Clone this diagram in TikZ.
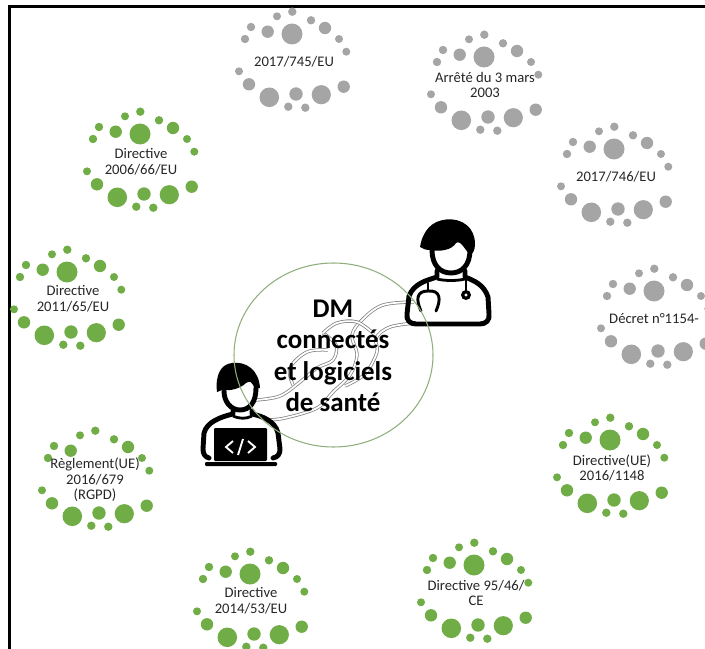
\documentclass[tikz,border=0pt]{standalone}
\usepackage{fontspec}
\setmainfont{Carlito}
\usetikzlibrary{calc}
\definecolor{spotgreen}{HTML}{70AD47}
\definecolor{spotgrey}{HTML}{A5A5A5}
\definecolor{ringgreen}{HTML}{8FAE7C}
\tikzset{
	lawtext/.style={align=center,inner sep=0pt,text=black!85,font=\fontsize{12.5}{13.3}\selectfont},
	titletext/.style={align=center,inner sep=0pt,font=\fontsize{23}{26.9}\selectfont\bfseries},
	tube/.style={draw=black!50,line width=.65pt,double=white,double distance=1.5pt},
	iconline/.style={line width=4.2pt,line join=round,line cap=round},
	scopeline/.style={line width=2.5pt,line cap=round},
	spots/.pic={
		% small dots of one cluster, big top dot is at the origin
		\foreach \a/\b/\r in {-24.3/-2.3/6.2,-15/-17.7/4,0.3/-22.3/4.2,19/-13.7/4.2,33/-6/6.2,47/5/4,54.3/17.7/4,
			-41/-7/4.2,-47/5/4.2,-53/37.3/4,-43/50.3/6.2,-22.7/63.3/9.8,4/60/6.7,29.3/60.7/9.6,51.7/52.7/6.2,-3.7/72.7/4.2,13.3/73.7/4.2}
			\fill (\a,\b) circle (\r);
	},
}
\begin{document}
\begin{tikzpicture}[x=0.03cm,y=-0.03cm]
	\useasboundingbox (0,0) rectangle (705,649);
	\clip (0,0) rectangle (705,649);
	
	% frame
	\draw[line width=2.2pt] (9.5,649) -- (9.5,6.3) -- (705,6.3);
	
	% green clusters
	\foreach \x/\y in {140/134,67/272,250/574,474/565,610/440}{
		\pic[fill=spotgreen] at (\x,\y) {spots};
		\fill[spotgreen] (\x,\y) circle (10.5);
	}
	% this one has no big dot
	\pic[fill=spotgreen] at (95,453) {spots};
	
	% grey clusters
	\foreach \x/\y in {292/34,484/57,614/149,654/291}{
		\pic[fill=spotgrey] at (\x,\y) {spots};
		\fill[spotgrey] (\x,\y) circle (10.5);
	}
	
	% law labels
	\node[lawtext] (dirA) at (141,162) {Directive\\2006/66/EU};
	\node[lawtext] (regA) at (294,62) {2017/745/EU};
	\node[lawtext] (arrete) at (485,85) {Arrêté du 3 mars\\2003};
	\node[lawtext] (regB) at (616,177) {2017/746/EU};
	\node[lawtext,anchor=west] (decret) at (609,319) {Décret n°1154-};
	\node[lawtext] (dirB) at (73,299) {Directive\\2011/65/EU};
	\node[lawtext] (rgpd) at (95,480) {Règlement(UE)\\2016/679\\(RGPD)};
	\node[lawtext] (dirC) at (612,468) {Directive(UE)\\2016/1148};
	\node[lawtext] (dirD) at (476,593) {Directive 95/46/\\CE};
	\node[lawtext] (dirE) at (251,601) {Directive\\2014/53/EU};
	
	% ends of the chain
	\coordinate (docA) at (414,302);
	\coordinate (docB) at (416,323);
	\coordinate (devA) at (256,400);
	\coordinate (devB) at (266,420);
	
	% chain between the two people
	\draw[tube] plot[smooth,tension=.6] coordinates {(docA) (383,305) (363,319) (352,335) (357,355) (350,375) (333,392) (317,408) (285,418) (devB)};
	\draw[tube] plot[smooth,tension=.6] coordinates {(docB) (390,327) (376,338) (377,352) (365,374) (345,386)};
	\draw[tube] plot[smooth,tension=.6] coordinates {(devA) (280,396) (300,382) (317,368) (333,360) (336,345) (323,333)};
	\draw[tube] plot[smooth,tension=.6] coordinates {(374,334) (357,322) (337,323) (323,333)};
	\draw[tube] plot[smooth,tension=.6] coordinates {(293,385) (290,368) (307,352) (328,350)};
	
	% doctor
	\fill (420,247) .. controls (423,230) and (432,221) .. (446,219.5) .. controls (463,218) and (475,228) .. (475,244) .. controls (475,250) and (473,254) .. (470,255) -- (466,250) .. controls (461,243) and (459,241) .. (456,243) .. controls (452,250) and (440,252) .. (430,250) .. controls (426,250) and (423,249) .. (420,247) -- cycle;
	\draw[iconline] (432,250) .. controls (432,265) and (440,273) .. (451,273) .. controls (462,273) and (470,265) .. (470,250);
	\draw[iconline] (437,271) -- (437,277) .. controls (428,280) and (414,283) .. (409,296) -- (407,314) .. controls (406,320) and (410,324) .. (416,324) -- (480,324) .. controls (486,324) and (490,320) .. (489,314) -- (488,297) .. controls (484,285) and (475,281) .. (465,277) -- (465,271);
	\draw[line width=2.4pt] (437,279) .. controls (445,281) and (457,281) .. (465,279);
	\draw[scopeline] (421,311) .. controls (416,300) and (416,291) .. (428,291) .. controls (441,290) and (441,300) .. (436,311);
	\draw[scopeline] (428,283) -- (428,291);
	\draw[scopeline] (466,280) -- (466,290);
	\fill[even odd rule] (466,295) circle (5) (466,295) circle (1.8);
	
	% developer
	\fill (217,392) .. controls (215,375) and (221,364) .. (232,363) .. controls (246,361) and (259,370) .. (260,388) -- (255,389) .. controls (252,382) and (250,380) .. (246,383) .. controls (240,389) and (230,391) .. (222,390) -- cycle;
	\draw[iconline] (224,391) .. controls (224,402) and (231,410) .. (240,410) .. controls (250,410) and (256,402) .. (256,388);
	\draw[iconline] (233,411) -- (233,414) .. controls (220,417) and (207,422) .. (204,433) -- (203,449) .. controls (203,454) and (205,457) .. (209,458);
	\draw[iconline] (252,411) -- (252,414) .. controls (262,416) and (275,421) .. (278,433) -- (280,449) .. controls (280,454) and (278,457) .. (273,458);
	\draw[line width=2.4pt] (233,416) .. controls (240,419) and (246,419) .. (252,416);
	\fill[rounded corners=1pt] (214,428) rectangle (267,461);
	\fill[rounded corners=1pt] (205,462) rectangle (277,466);
	\draw[white,line width=1.6pt] (233,441) -- (226,447) -- (233,453);
	\draw[white,line width=1.6pt] (248,441) -- (255,447) -- (248,453);
	\draw[white,line width=1.6pt] (243,439) -- (238,455);
	
	% ring
	\draw[ringgreen,line width=.9pt] (333.5,355) ellipse (99.5 and 92);
	
	% title
	\node[titletext] (title) at (333,356) {DM\\connectés\\et logiciels\\de santé};
\end{tikzpicture}
\end{document}
